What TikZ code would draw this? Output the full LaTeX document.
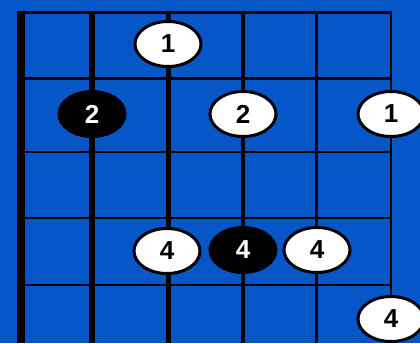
\documentclass[tikz,border=0pt]{standalone}
\usepackage{fontspec}
\setmainfont{Liberation Sans}
\usepackage{tikz}
\usetikzlibrary{shapes.geometric}
\definecolor{fretblue}{RGB}{6,86,200}

\begin{document}
\begin{tikzpicture}[x=1pt,y=-1pt]
        \tikzstyle{dotw}=[ellipse, draw=black, line width=3pt, fill=white, text=black, minimum width=66pt, minimum height=45pt, inner sep=0pt, font=\fontsize{26}{28}\selectfont\bfseries]
        \tikzstyle{dotb}=[dotw, fill=black, text=white]

            \useasboundingbox (0,0) rectangle (420,343);
            \clip (0,0) rectangle (420,343);
            \fill[fretblue] (0,0) rectangle (420,343);

            \draw[line width=3pt] (17,12) -- (392,12);
            \foreach \y in {78.5,152,218,285}
            \draw[line width=2.5pt] (21,\y) -- (392,\y);

            \foreach \x/\w in {21/8,92/6.5,168/5,243/4.5,316/3}
            \draw[line width=\w pt] (\x,10.5) -- (\x,343);

            \node[dotw](1) at (168,44){1};
            \node[dotb](2) at (92,114){2};
            \node[dotw](3) at (243,114){2};
            \node[dotw](4) at (391,114){1};

            \node[dotw](5) at (167,251){4};
            \node[dotb](6) at (243,250){4};
            \node[dotw](7) at (317,250){4};
            \node[dotw](8) at (391,319){4};

            \draw[line width=2pt] (391,10.5) -- (4);
            \draw[line width=2pt] (4) -- (8);

        \end{tikzpicture}
\end{document}
